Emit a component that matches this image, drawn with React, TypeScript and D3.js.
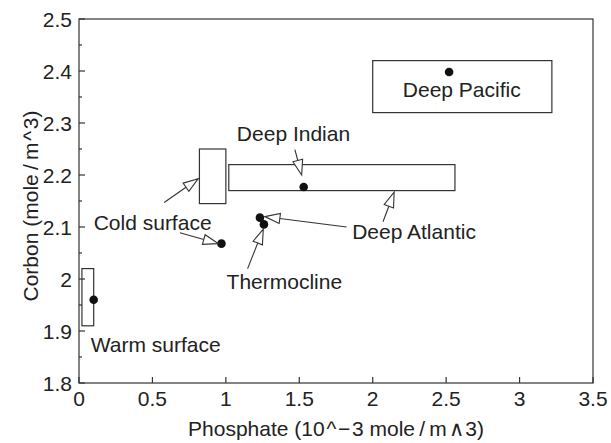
import React from "react";
import * as d3 from "d3";

const W = 611, H = 443;
const M = { left: 79, right: 593, top: 19, bottom: 383 };

const xTicks = [0, 0.5, 1, 1.5, 2, 2.5, 3, 3.5];
const yTicks = [1.8, 1.9, 2.0, 2.1, 2.2, 2.3, 2.4, 2.5];
const yMinor = [1.85, 1.95, 2.05, 2.15, 2.25, 2.35, 2.45];

// boxes: [x0, x1, y0, y1]
const boxNames = ["Warm surface", "Cold surface", "Deep Atlantic/Indian", "Deep Pacific"];
const boxes: [number, number, number, number][] = [
  [0.02, 0.1, 1.91, 2.02],
  [0.82, 1.0, 2.145, 2.25],
  [1.02, 2.56, 2.17, 2.22],
  [2.0, 3.22, 2.32, 2.42],
];

// points: [phosphate, carbon]
const pointNames = ["Warm surface", "Cold surface", "Deep Atlantic", "Thermocline", "Deep Indian", "Deep Pacific"];
const points: [number, number][] = [
  [0.1, 1.96],
  [0.97, 2.068],
  [1.232, 2.118],
  [1.259, 2.105],
  [1.53, 2.177],
  [2.52, 2.398],
];

// labels: [text, x, y(baseline)]
const labels: [string, number, number][] = [
  ["Warm surface", 0.08, 1.86],
  ["Cold surface", 0.1, 2.095],
  ["Thermocline", 1.005, 1.98],
  ["Deep Atlantic", 1.86, 2.077],
  ["Deep Indian", 1.075, 2.266],
  ["Deep Pacific", 2.205, 2.35],
];

// arrows: [x from, y from, x to, y to]
const arrows: [number, number, number, number][] = [
  [1.47, 2.249, 1.516, 2.2],
  [1.822, 2.1, 1.266, 2.12],
  [2.07, 2.11, 2.146, 2.167],
  [1.148, 2.02, 1.255, 2.096],
  [0.58, 2.147, 0.812, 2.193],
  [0.687, 2.089, 0.948, 2.068],
];

const FONT = "'Liberation Sans', Arial, Helvetica, sans-serif";
const INK = "#222";
const FS = 21;

export default function App() {
  const x = d3.scaleLinear().domain([0, 3.5]).range([M.left, M.right]);
  const y = d3.scaleLinear().domain([1.8, 2.5]).range([M.bottom, M.top]);

  const arrowHead = (a: [number, number, number, number]) => {
    const x1 = x(a[0]), y1 = y(a[1]), x2 = x(a[2]), y2 = y(a[3]);
    const ang = Math.atan2(y2 - y1, x2 - x1);
    const L = 15, hw = 5;
    const bx = x2 - L * Math.cos(ang), by = y2 - L * Math.sin(ang);
    const px = -Math.sin(ang) * hw, py = Math.cos(ang) * hw;
    return {
      line: [x1, y1, bx, by],
      tri: `${x2},${y2} ${bx + px},${by + py} ${bx - px},${by - py}`,
    };
  };

  return (
    <svg width={W} height={H} style={{ position: "absolute", left: 0, top: 0, background: "#fff" }}
      fontFamily={FONT}>
      <rect x={0} y={0} width={W} height={H} fill="#fff" />
      {/* frame */}
      <rect x={M.left} y={M.top} width={M.right - M.left} height={M.bottom - M.top}
        fill="none" stroke="#333" strokeWidth={1.2} />
      {/* y ticks */}
      {yTicks.map((t) => (
        <g key={"y" + t}>
          <line x1={M.left} x2={M.left + 6} y1={y(t)} y2={y(t)} stroke="#333" strokeWidth={1.2} />
          <text x={M.left - 7} y={y(t) + 7.5} textAnchor="end" fontSize={FS} fill={INK}>
            {d3.format("")(+t.toFixed(1))}
          </text>
        </g>
      ))}
      {yMinor.map((t) => (
        <line key={"ym" + t} x1={M.left} x2={M.left + 3} y1={y(t)} y2={y(t)} stroke="#333" strokeWidth={1.2} />
      ))}
      {/* x ticks */}
      {xTicks.map((t) => (
        <g key={"x" + t}>
          <line x1={x(t)} x2={x(t)} y1={M.bottom} y2={M.bottom - 6} stroke="#333" strokeWidth={1.2} />
          <text x={x(t)} y={M.bottom + 23} textAnchor="middle" fontSize={FS} fill={INK}>
            {String(t)}
          </text>
        </g>
      ))}
      {/* axis titles */}
      <text x={(M.left + M.right) / 2} y={436} textAnchor="middle" fontSize={FS} fill={INK}>
        {"Phosphate (10\u200a^\u200a\u2212\u200a3 mole\u2009/\u2009m\u200a\u2227\u200a3)"}
      </text>
      <text transform={`translate(38, 206) rotate(-90)`} textAnchor="middle"
        fontSize={FS} fill={INK}>
        {"Corbon (mole\u2009/\u2009m\u200a^\u200a3)"}
      </text>
      {/* boxes */}
      {boxes.map((b, i) => (
        <rect key={boxNames[i]} x={x(b[0])} y={y(b[3])} width={x(b[1]) - x(b[0])} height={y(b[2]) - y(b[3])}
          fill="none" stroke="#333" strokeWidth={1.2} />
      ))}
      {/* points */}
      {points.map((p, i) => (
        <circle key={pointNames[i]} cx={x(p[0])} cy={y(p[1])} r={4.3} fill="#111" />
      ))}
      {/* arrows */}
      {arrows.map((a, i) => {
        const h = arrowHead(a);
        return (
          <g key={"a" + i}>
            <line x1={h.line[0]} y1={h.line[1]} x2={h.line[2]} y2={h.line[3]} stroke="#333" strokeWidth={1.1} />
            <polygon points={h.tri} fill="#fff" stroke="#333" strokeWidth={1.1} strokeLinejoin="miter" />
          </g>
        );
      })}
      {/* labels */}
      {labels.map((l) => (
        <text key={l[0]} x={x(l[1])} y={y(l[2])} fontSize={FS} fill={INK}>{l[0]}</text>
      ))}
    </svg>
  );
}
